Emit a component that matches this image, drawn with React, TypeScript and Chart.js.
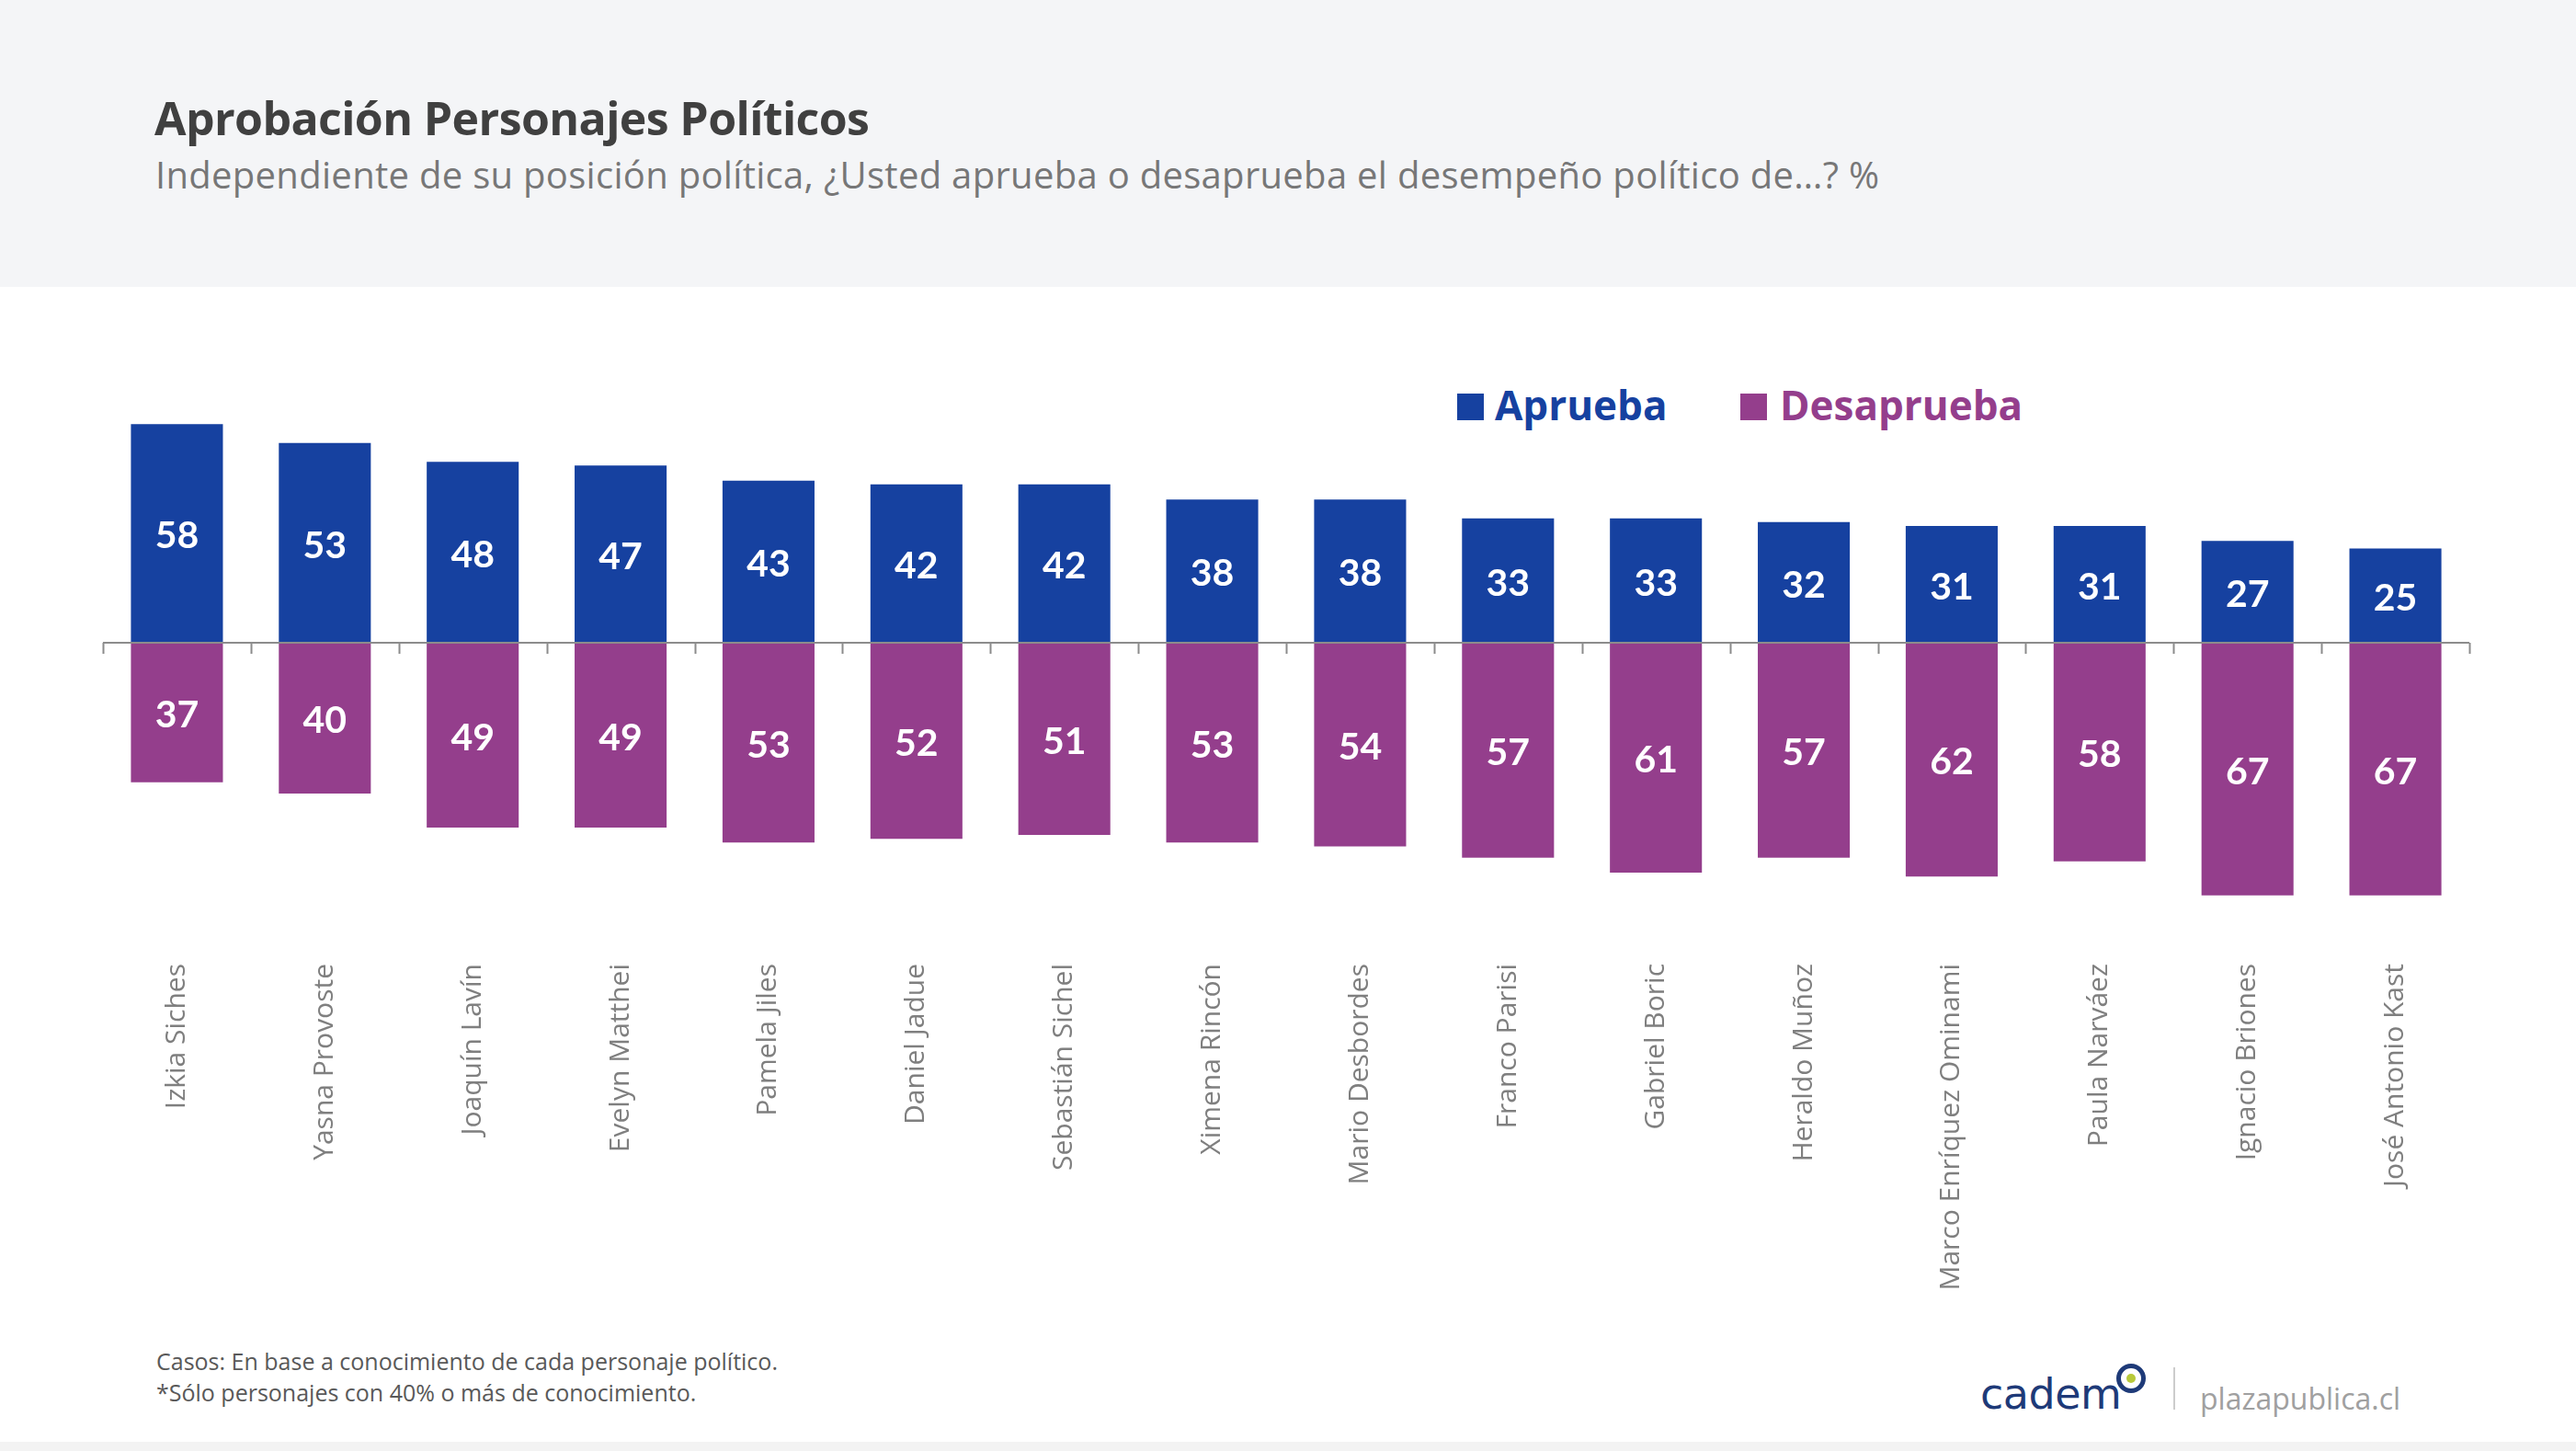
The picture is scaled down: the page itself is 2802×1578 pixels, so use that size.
import React, { useEffect, useRef } from "react";
import { Chart, registerables } from "chart.js";

Chart.register(...registerables);

const categories = [
  "Izkia Siches",
  "Yasna Provoste",
  "Joaquín Lavín",
  "Evelyn Matthei",
  "Pamela Jiles",
  "Daniel Jadue",
  "Sebastián Sichel",
  "Ximena Rincón",
  "Mario Desbordes",
  "Franco Parisi",
  "Gabriel Boric",
  "Heraldo Muñoz",
  "Marco Enríquez Ominami",
  "Paula Narváez",
  "Ignacio Briones",
  "José Antonio Kast",
];
const aprueba = [58, 53, 48, 47, 43, 42, 42, 38, 38, 33, 33, 32, 31, 31, 27, 25];
const desaprueba = [37, 40, 49, 49, 53, 52, 51, 53, 54, 57, 61, 57, 62, 58, 67, 67];
const seriesNames = ["Aprueba", "Desaprueba"];

const BLUE = "#1641A0";
const PURPLE = "#943E8C";

const valueLabels = {
  id: "valueLabels",
  afterDatasetsDraw(chart: any) {
    const ctx = chart.ctx;
    ctx.save();
    ctx.font = "bold 41px Lato";
    ctx.fillStyle = "#ffffff";
    ctx.textAlign = "center";
    ctx.textBaseline = "middle";
    chart.data.datasets.forEach((ds: any, di: number) => {
      const meta = chart.getDatasetMeta(di);
      meta.data.forEach((el: any, i: number) => {
        const p = el.getProps(["x", "y", "base"], true);
        ctx.fillText(String(Math.abs(ds.data[i])), p.x, (p.y + p.base) / 2 + 3);
      });
    });
    ctx.restore();
  },
};

const zeroAxis = {
  id: "zeroAxis",
  afterDatasetsDraw(chart: any) {
    const ctx = chart.ctx;
    const xs = chart.scales.x;
    const ys = chart.scales.y;
    const area = chart.chartArea;
    const y0 = ys.getPixelForValue(0);
    ctx.save();
    ctx.strokeStyle = "#8c8c8c";
    ctx.lineWidth = 2;
    ctx.beginPath();
    ctx.moveTo(area.left, y0);
    ctx.lineTo(area.right, y0);
    const n = chart.data.labels.length;
    for (let i = 0; i <= n; i++) {
      let x;
      if (i === 0) x = area.left;
      else if (i === n) x = area.right;
      else x = (xs.getPixelForValue(i - 1) + xs.getPixelForValue(i)) / 2;
      x = Math.round(x) + 0.5;
      ctx.moveTo(x, y0);
      ctx.lineTo(x, y0 + 12);
    }
    ctx.stroke();
    ctx.restore();
  },
};

export default function App() {
  const ref = useRef<HTMLCanvasElement | null>(null);

  useEffect(() => {
    if (!ref.current) return;
    const chart = new Chart(ref.current, {
      type: "bar",
      data: {
        labels: categories,
        datasets: [
          {
            label: seriesNames[0],
            data: aprueba,
            backgroundColor: BLUE,
            barPercentage: 0.622,
            categoryPercentage: 1,
          },
          {
            label: seriesNames[1],
            data: desaprueba.map((v) => -v),
            backgroundColor: PURPLE,
            barPercentage: 0.622,
            categoryPercentage: 1,
          },
        ],
      },
      options: {
        responsive: false,
        animation: false,
        devicePixelRatio: 1,
        layout: { padding: { top: 100, left: 112, right: 116, bottom: 0 } },
        plugins: {
          legend: { display: false },
          tooltip: { enabled: false },
          title: { display: false },
        },
        scales: {
          x: {
            stacked: true,
            grid: { display: false },
            border: { display: false },
            ticks: {
              color: "#7f7f7f",
              font: { family: "Open Sans", size: 30 },
              minRotation: 90,
              maxRotation: 90,
              autoSkip: false,
              padding: 13,
            },
            afterFit: (s: any) => {
              s.height = 400;
            },
          },
          y: {
            stacked: true,
            display: false,
            min: -80,
            max: 70,
          },
        },
      },
      plugins: [zeroAxis, valueLabels],
    });
    return () => chart.destroy();
  }, []);

  const abs: React.CSSProperties = { position: "absolute", whiteSpace: "nowrap", lineHeight: 1 };

  return (
    <div
      style={{
        position: "absolute",
        left: 0,
        top: 0,
        width: 2802,
        height: 1578,
        background: "#ffffff",
        overflow: "hidden",
        fontFamily: "'Open Sans', sans-serif",
      }}
    >
      <div style={{ position: "absolute", left: 0, top: 0, width: 2802, height: 312, background: "#f4f5f7" }} />
      <div style={{ ...abs, left: 168, top: 103, fontSize: 50, fontWeight: 700, color: "#404040", letterSpacing: -0.6 }}>
        Aprobación Personajes Políticos
      </div>
      <div style={{ ...abs, left: 169, top: 170, fontSize: 40, color: "#777777", letterSpacing: 0.3 }}>
        Independiente de su posición política, ¿Usted aprueba o desaprueba el desempeño político de…? %
      </div>

      {/* legend */}
      <div style={{ position: "absolute", left: 1585, top: 428, width: 29, height: 29, background: BLUE }} />
      <div style={{ ...abs, left: 1626, top: 418, fontSize: 44, fontWeight: 700, color: BLUE }}>{seriesNames[0]}</div>
      <div style={{ position: "absolute", left: 1893, top: 428, width: 29, height: 29, background: PURPLE }} />
      <div style={{ ...abs, left: 1936, top: 418, fontSize: 44, fontWeight: 700, color: PURPLE }}>{seriesNames[1]}</div>

      <canvas
        ref={ref}
        width={2802}
        height={1115}
        style={{ position: "absolute", left: 0, top: 312, width: 2802, height: 1115 }}
      />

      {/* footer */}
      <div style={{ ...abs, left: 170, top: 1468, fontSize: 25, color: "#595959" }}>
        Casos: En base a conocimiento de cada personaje político.
      </div>
      <div style={{ ...abs, left: 170, top: 1502, fontSize: 25, color: "#595959" }}>
        *Sólo personajes con 40% o más de conocimiento.
      </div>

      {/* logos */}
      <div style={{ ...abs, left: 2154, top: 1493, fontSize: 46, fontFamily: "'DejaVu Sans'", color: "#1e3a78", letterSpacing: -0.5 }}>
        cadem
      </div>
      <div
        style={{
          position: "absolute",
          left: 2302,
          top: 1483,
          width: 22,
          height: 22,
          borderRadius: "50%",
          border: "5px solid #1e3a78",
          background: "#ffffff",
        }}
      >
        <div style={{ position: "absolute", left: 6, top: 6, width: 10, height: 10, borderRadius: "50%", background: "#b8c93a" }} />
      </div>
      <div style={{ position: "absolute", left: 2364, top: 1487, width: 2, height: 46, background: "#cccccc" }} />
      <div style={{ ...abs, left: 2393, top: 1505, fontSize: 32, color: "#a0a0a0" }}>plazapublica.cl</div>
      <div style={{ position: "absolute", left: 0, top: 1568, width: 2802, height: 10, background: "#f3f3f3" }} />
    </div>
  );
}
